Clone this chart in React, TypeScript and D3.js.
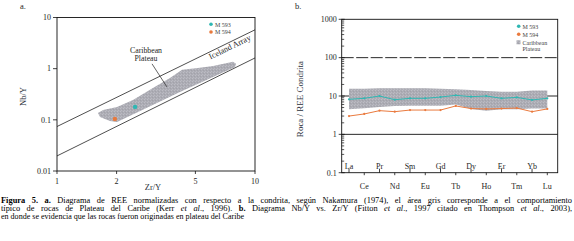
import React, { useLayoutEffect, useRef } from "react";
import * as d3 from "d3";

// ---------- Panel a data ----------
const aXTicks = [1, 2, 5, 10];
const aYTicks = [0.01, 0.1, 1, 10];
const icelandUpper: [number, number][] = [[1, 0.074], [10, 5.75]];
const icelandLower: [number, number][] = [[1, 0.0197], [10, 1.62]];
const plateauOutline: [number, number][] = [
  [1.61, 0.136], [1.71, 0.156], [2.01, 0.179], [2.42, 0.245], [3.05, 0.42],
  [3.72, 0.66], [4.28, 0.95], [5.27, 1.04], [6.14, 1.13], [7.74, 1.36],
  [8.02, 1.25], [7.93, 1.08], [4.18, 0.35], [2.63, 0.149], [2.01, 0.091],
  [1.85, 0.095], [1.65, 0.114],
];
const samplesA = [
  { name: "M 593", zr: 2.48, nb: 0.179, color: "#2fb7b3" },
  { name: "M 594", zr: 1.96, nb: 0.104, color: "#e8793d" },
];
const leader: [number, number][] = [[3.02, 1.24], [3.59, 0.44]];

// ---------- Panel b data ----------
const elements = ["La", "Ce", "Pr", "Nd", "Sm", "Eu", "Gd", "Tb", "Dy", "Ho", "Er", "Tm", "Yb", "Lu"];
const m593 = [8.2, 8.7, 10, 8.0, 8.7, 8.7, 9.4, 10.4, 9.6, 10, 8.7, 9.2, 7.9, 8.7];
const m594 = [3.0, 3.4, 4.15, 3.9, 4.3, 4.3, 4.3, 5.5, 4.7, 4.6, 4.7, 4.85, 3.9, 4.6];
const bandUpper = [15.5, 15.5, 16, 16, 16, 16, 15.5, 15, 14.3, 13.5, 13, 13, 14, 14];
const bandLower = [4.5, 4.8, 5.2, 5.5, 5.6, 5.6, 5.6, 6.0, 4.6, 4.1, 4.5, 4.5, 4.7, 4.7];
const bYTicks = [0.1, 1, 10, 100, 1000];

const FONT = "'Liberation Serif', 'Times New Roman', serif";
const INK = "#1e1e24";

export default function App() {
  const cap1 = useRef<SVGTextElement>(null);
  const cap2 = useRef<SVGTextElement>(null);

  useLayoutEffect(() => {
    const justify = (el: SVGTextElement | null, target: number) => {
      if (!el) return;
      el.style.wordSpacing = "0px";
      const w = el.getComputedTextLength();
      const spaces = (el.textContent || "").split(" ").length - 1;
      if (spaces > 0 && w < target) el.style.wordSpacing = `${(target - w) / spaces}px`;
    };
    justify(cap1.current, 571);
    justify(cap2.current, 571);
  }, []);

  // Panel a scales
  const xA = d3.scaleLog().domain([1, 10]).range([57, 255]);
  const yA = d3.scaleLog().domain([0.01, 10]).range([171, 17.5]);
  const lineA = d3.line<[number, number]>().x((d) => xA(d[0])).y((d) => yA(d[1]));
  const polyA = d3.line<[number, number]>().x((d) => xA(d[0])).y((d) => yA(d[1])).curve(d3.curveLinearClosed);

  // Panel b scales
  const xB = d3.scalePoint<string>().domain(elements).range([349, 547.3]);
  const yB = d3.scaleLog().domain([0.1, 1000]).range([172.7, 19.3]);
  const bLeft = 341.7, bRight = 557.7;
  const lineB = d3.line<number>().x((_, i) => xB(elements[i])!).y((d) => yB(d));
  const areaB = d3
    .area<number>()
    .x((_, i) => xB(elements[i])!)
    .y0((_, i) => yB(bandLower[i]))
    .y1((d) => yB(d));

  const minorB: number[] = [];
  for (let e = -1; e < 3; e++) for (let k = 2; k <= 9; k++) minorB.push(k * Math.pow(10, e));

  const angle = (Math.atan2(yA(icelandUpper[1][1]) - yA(icelandUpper[0][1]), xA(10) - xA(1)) * 180) / Math.PI;

  return (
    <div style={{ position: "absolute", left: 0, top: 0 }}>
      <svg width={574} height={241} style={{ display: "block", fontFamily: FONT }}>
        <defs>
          <pattern id="stip" width="3" height="3" patternUnits="userSpaceOnUse">
            <rect width="3" height="3" fill="#acacb4" />
            <rect x="0" y="0" width="1" height="1" fill="#bdbdc5" />
            <rect x="2" y="1" width="1" height="1" fill="#a2a2aa" />
            <rect x="1" y="2" width="1" height="1" fill="#b9b9c1" />
          </pattern>
        </defs>
        <rect width={574} height={241} fill="#fff" />

        {/* ================= Panel a ================= */}
        <text x={20} y={9} fontSize={8.5} fill={INK}>a.</text>
        <path d={polyA(plateauOutline)!} fill="url(#stip)" />
        <path d={lineA(icelandUpper)!} stroke="#222" strokeWidth={0.8} fill="none" />
        <path d={lineA(icelandLower)!} stroke="#222" strokeWidth={0.8} fill="none" />
        <path d={lineA(leader)!} stroke="#222" strokeWidth={0.7} fill="none" />
        <rect x={xA(1)} y={yA(10)} width={xA(10) - xA(1)} height={yA(0.01) - yA(10)} fill="none" stroke="#111" strokeWidth={0.9} />
        {aYTicks.map((t) => (
          <g key={"ay" + t}>
            <line x1={xA(1) - 4} x2={xA(1)} y1={yA(t)} y2={yA(t)} stroke="#111" strokeWidth={0.8} />
            <text x={xA(1) - 6} y={yA(t) + 2.8} fontSize={8} textAnchor="end" fill={INK}>{t}</text>
          </g>
        ))}
        {aXTicks.map((t) => (
          <g key={"ax" + t}>
            <line x1={xA(t)} x2={xA(t)} y1={yA(0.01)} y2={yA(0.01) + 3} stroke="#111" strokeWidth={0.8} />
            <text x={xA(t)} y={183.5} fontSize={8} textAnchor="middle" fill={INK}>{t}</text>
          </g>
        ))}
        <text x={153} y={190} fontSize={8.5} textAnchor="middle" fill="#2a2f3a">Zr/Y</text>
        <text transform="translate(26,96.5) rotate(-90)" fontSize={8.5} textAnchor="middle" fill="#2a2f3a">Nb/Y</text>
        <text x={146} y={52.5} fontSize={7.8} textAnchor="middle" fill={INK}>Caribbean</text>
        <text x={146} y={61} fontSize={7.8} textAnchor="middle" fill={INK}>Plateau</text>
        <text transform={`translate(231,49.5) rotate(${angle})`} fontSize={8.3} textAnchor="middle" fill={INK}>Iceland Array</text>
        {samplesA.map((s) => (
          <circle key={s.name} cx={xA(s.zr)} cy={yA(s.nb)} r={2.2} fill={s.color} />
        ))}
        {samplesA.map((s, i) => (
          <g key={"la" + s.name}>
            <circle cx={211} cy={24.3 + i * 7.7} r={1.8} fill={s.color} />
            <text x={215} y={26.5 + i * 7.7} fontSize={6} fill="#444">{s.name}</text>
          </g>
        ))}

        {/* ================= Panel b ================= */}
        <text x={295} y={9} fontSize={8.5} fill={INK}>b.</text>
        <line x1={bLeft} x2={bRight} y1={yB(100)} y2={yB(100)} stroke="#111" strokeWidth={0.9} strokeDasharray="12,2.5" />
        <line x1={bLeft} x2={bRight} y1={yB(10)} y2={yB(10)} stroke="#111" strokeWidth={0.9} />
        <line x1={bLeft} x2={bRight} y1={yB(1)} y2={yB(1)} stroke="#111" strokeWidth={0.9} />
        <path d={areaB(bandUpper)!} fill="url(#stip)" />
        <path d={lineB(m594)!} stroke="#ea7a3e" strokeWidth={1} fill="none" />
        <path d={lineB(m593)!} stroke="#2fb7b3" strokeWidth={1} fill="none" />
        {m594.map((v, i) => (
          <circle key={"o" + i} cx={xB(elements[i])!} cy={yB(v)} r={1.1} fill="#ea7a3e" />
        ))}
        {m593.map((v, i) => (
          <circle key={"c" + i} cx={xB(elements[i])!} cy={yB(v)} r={1.1} fill="#2fb7b3" />
        ))}
        <rect x={bLeft} y={yB(1000)} width={bRight - bLeft} height={yB(0.1) - yB(1000)} fill="none" stroke="#111" strokeWidth={0.9} />
        {minorB.map((t) => (
          <line key={"mb" + t} x1={bLeft} x2={bLeft + 2.5} y1={yB(t)} y2={yB(t)} stroke="#111" strokeWidth={0.7} />
        ))}
        {bYTicks.map((t) => (
          <g key={"by" + t}>
            <line x1={bLeft - 3} x2={bLeft + 3} y1={yB(t)} y2={yB(t)} stroke="#111" strokeWidth={0.8} />
            <text x={bLeft - 5} y={yB(t) + 2.8} fontSize={8} textAnchor="end" fill={INK}>{t}</text>
          </g>
        ))}
        {elements.map((el, i) => {
          const x = xB(el)!;
          const y0 = yB(0.1);
          return i % 2 === 0 ? (
            <g key={el}>
              <line x1={x} x2={x} y1={y0} y2={y0 - 4} stroke="#111" strokeWidth={0.8} />
              <text x={x} y={169} fontSize={8} textAnchor="middle" fill={INK}>{el}</text>
            </g>
          ) : (
            <g key={el}>
              <line x1={x} x2={x} y1={y0} y2={y0 + 2.5} stroke="#111" strokeWidth={0.8} />
              <text x={x} y={189} fontSize={8} textAnchor="middle" fill={INK}>{el}</text>
            </g>
          );
        })}
        <text transform="translate(303,99) rotate(-90)" fontSize={9} textAnchor="middle" fill="#2a2f3a">Roca / REE Condrita</text>
        <circle cx={518.7} cy={26.3} r={1.8} fill="#2fb7b3" />
        <text x={522.5} y={28.5} fontSize={6} fill="#444">M 593</text>
        <circle cx={518.7} cy={34.3} r={1.8} fill="#ea7a3e" />
        <text x={522.5} y={36.5} fontSize={6} fill="#444">M 594</text>
        <rect x={516.5} y={40.3} width={4} height={4} fill="url(#stip)" />
        <text x={522.5} y={44.5} fontSize={6} fill="#444">Caribbean</text>
        <text x={522.5} y={51} fontSize={6} fill="#444">Plateau</text>

        {/* ================= Caption ================= */}
        <text ref={cap1} x={1} y={202.5} fontSize={8.4} fill="#000">
          <tspan fontWeight="bold">Figura 5. a.</tspan>
          <tspan> Diagrama de REE normalizadas con respecto a la condrita, según Nakamura (1974), el área gris corresponde a el comportamiento</tspan>
        </text>
        <text ref={cap2} x={1} y={210.5} fontSize={8.4} fill="#000">
          <tspan>típico de rocas de Plateau del Caribe (Kerr </tspan>
          <tspan fontStyle="italic">et al</tspan>
          <tspan>., 1996). </tspan>
          <tspan fontWeight="bold">b.</tspan>
          <tspan> Diagrama Nb/Y vs. Zr/Y (Fitton </tspan>
          <tspan fontStyle="italic">et al</tspan>
          <tspan>., 1997 citado en Thompson </tspan>
          <tspan fontStyle="italic">et al</tspan>
          <tspan>., 2003),</tspan>
        </text>
        <text x={1} y={218.5} fontSize={8.4} fill="#000" textLength={243} lengthAdjust="spacingAndGlyphs">
          en donde se evidencia que las rocas fueron originadas en plateau del Caribe
        </text>
      </svg>
    </div>
  );
}
